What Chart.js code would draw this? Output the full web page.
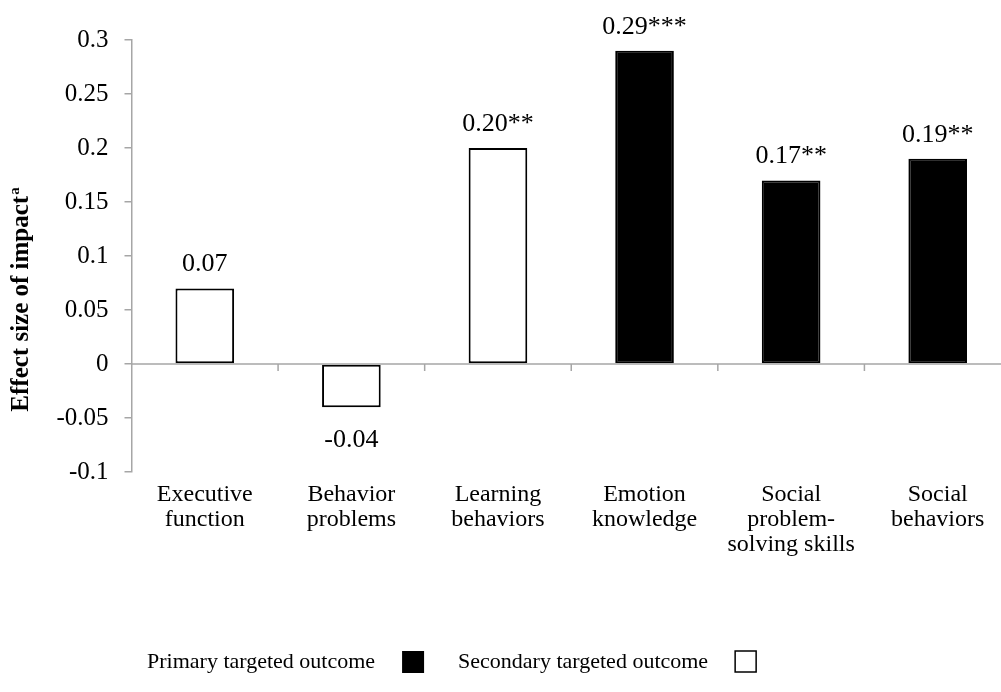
<!DOCTYPE html>
<html>
<head>
<meta charset="utf-8">
<script src="https://cdn.jsdelivr.net/npm/chart.js@4.4.1/dist/chart.umd.min.js"></script>
<style>
  html, body { margin: 0; padding: 0; background: #fff; overflow: hidden; }
  #wrap { width: 1011px; height: 692px; }
</style>
</head>
<body>
<div id="wrap"><canvas id="effectChart"></canvas></div>
<script>
// データ
const categories = [
    ['Executive', 'function'],
    ['Behavior', 'problems'],
    ['Learning', 'behaviors'],
    ['Emotion', 'knowledge'],
    ['Social', 'problem-', 'solving skills'],
    ['Social', 'behaviors']
];
const effectSizes = [0.07, -0.04, 0.20, 0.29, 0.17, 0.19];
const significance = ['', '', '**', '***', '**', '**'];
const isPrimary = [false, false, false, true, true, true];
const yTicks = [-0.1, -0.05, 0, 0.05, 0.1, 0.15, 0.2, 0.25, 0.3];
const legendItems = ['Primary targeted outcome', 'Secondary targeted outcome'];
const axisTitle = 'Effect size of impact';
const axisTitleNote = 'a';

const serif = "'Liberation Serif', 'Times New Roman', serif";
const axisGray = '#a6a6a6';

// 値ラベル・ゼロ線・軸タイトル・凡例
const decorPlugin = {
    id: 'decor',
    afterDatasetsDraw(chart) {
        const { ctx, chartArea, scales } = chart;
        const x = scales.x, y = scales.y;
        const y0 = y.getPixelForValue(0);

        ctx.save();
        // ゼロ線
        ctx.strokeStyle = axisGray;
        ctx.lineWidth = 1.5;
        ctx.beginPath();
        ctx.moveTo(chartArea.left, y0);
        ctx.lineTo(chartArea.right, y0);
        // カテゴリ区切りの目盛り
        for (let i = 1; i < categories.length; i++) {
            const px = (x.getPixelForValue(i - 1) + x.getPixelForValue(i)) / 2;
            ctx.moveTo(px, y0);
            ctx.lineTo(px, y0 + 7);
        }
        ctx.stroke();

        // 値ラベル
        ctx.fillStyle = '#000';
        ctx.font = '26px ' + serif;
        ctx.textAlign = 'center';
        ctx.textBaseline = 'middle';
        const meta = chart.getDatasetMeta(0);
        meta.data.forEach((bar, i) => {
            const v = effectSizes[i];
            const txt = v.toFixed(2) + significance[i];
            ctx.fillText(txt, bar.x, v >= 0 ? bar.y - 24 : bar.y + 33);
        });

        // 軸タイトル（縦書き、上付き a）
        ctx.save();
        ctx.translate(22, 300);
        ctx.rotate(-Math.PI / 2);
        ctx.font = 'bold 25px ' + serif;
        const tw = ctx.measureText(axisTitle).width;
        ctx.font = 'bold 15px ' + serif;
        const aw = ctx.measureText(axisTitleNote).width;
        const start = -(tw + aw) / 2;
        ctx.textAlign = 'left';
        ctx.font = 'bold 25px ' + serif;
        ctx.fillText(axisTitle, start, 0);
        ctx.font = 'bold 15px ' + serif;
        ctx.fillText(axisTitleNote, start + tw + 1, -7);
        ctx.restore();

        // 凡例（文字の右に記号）
        const ly = 662;
        ctx.font = '22px ' + serif;
        ctx.textAlign = 'left';
        ctx.textBaseline = 'middle';
        let lx = 147;
        legendItems.forEach((label, i) => {
            ctx.fillStyle = '#000';
            ctx.fillText(label, lx, ly);
            lx += ctx.measureText(label).width + 27;
            if (i === 0) {
                ctx.fillRect(lx, ly - 11, 22, 22);
            } else {
                ctx.strokeStyle = '#000';
                ctx.lineWidth = 1.5;
                ctx.strokeRect(lx, ly - 11, 21, 21);
            }
            lx += 22 + 34;
        });
        ctx.restore();
    }
};

new Chart(document.getElementById('effectChart'), {
    type: 'bar',
    data: {
        labels: categories,
        datasets: [{
            data: effectSizes,
            backgroundColor: isPrimary.map(p => p ? '#000' : '#fff'),
            borderColor: '#000',
            borderWidth: 2,
            borderSkipped: false,
            barPercentage: 0.4,
            categoryPercentage: 1.0
        }]
    },
    options: {
        responsive: true,
        maintainAspectRatio: false,
        animation: false,
        layout: { padding: { top: 40, right: 0, bottom: 0, left: 0 } },
        plugins: {
            legend: { display: false },
            tooltip: { enabled: false }
        },
        scales: {
            x: {
                grid: { display: false, drawTicks: false },
                border: { display: false },
                afterFit(axis) { axis.height = 220; },
                ticks: {
                    color: '#000',
                    padding: 10,
                    maxRotation: 0,
                    autoSkip: false,
                    font: { family: serif, size: 24, lineHeight: 1.05 }
                }
            },
            y: {
                min: -0.1,
                max: 0.3,
                afterBuildTicks(axis) {
                    axis.ticks = yTicks.map(v => ({ value: v }));
                },
                afterFit(axis) { axis.width = 131.5; },
                grid: {
                    drawOnChartArea: false,
                    drawTicks: true,
                    tickLength: 7,
                    color: axisGray,
                    lineWidth: 1.5
                },
                border: { display: true, color: axisGray, width: 1.5 },
                ticks: {
                    color: '#000',
                    padding: 16,
                    font: { family: serif, size: 25 },
                    callback: v => String(v)
                }
            }
        }
    },
    plugins: [decorPlugin]
});
</script>
</body>
</html>
